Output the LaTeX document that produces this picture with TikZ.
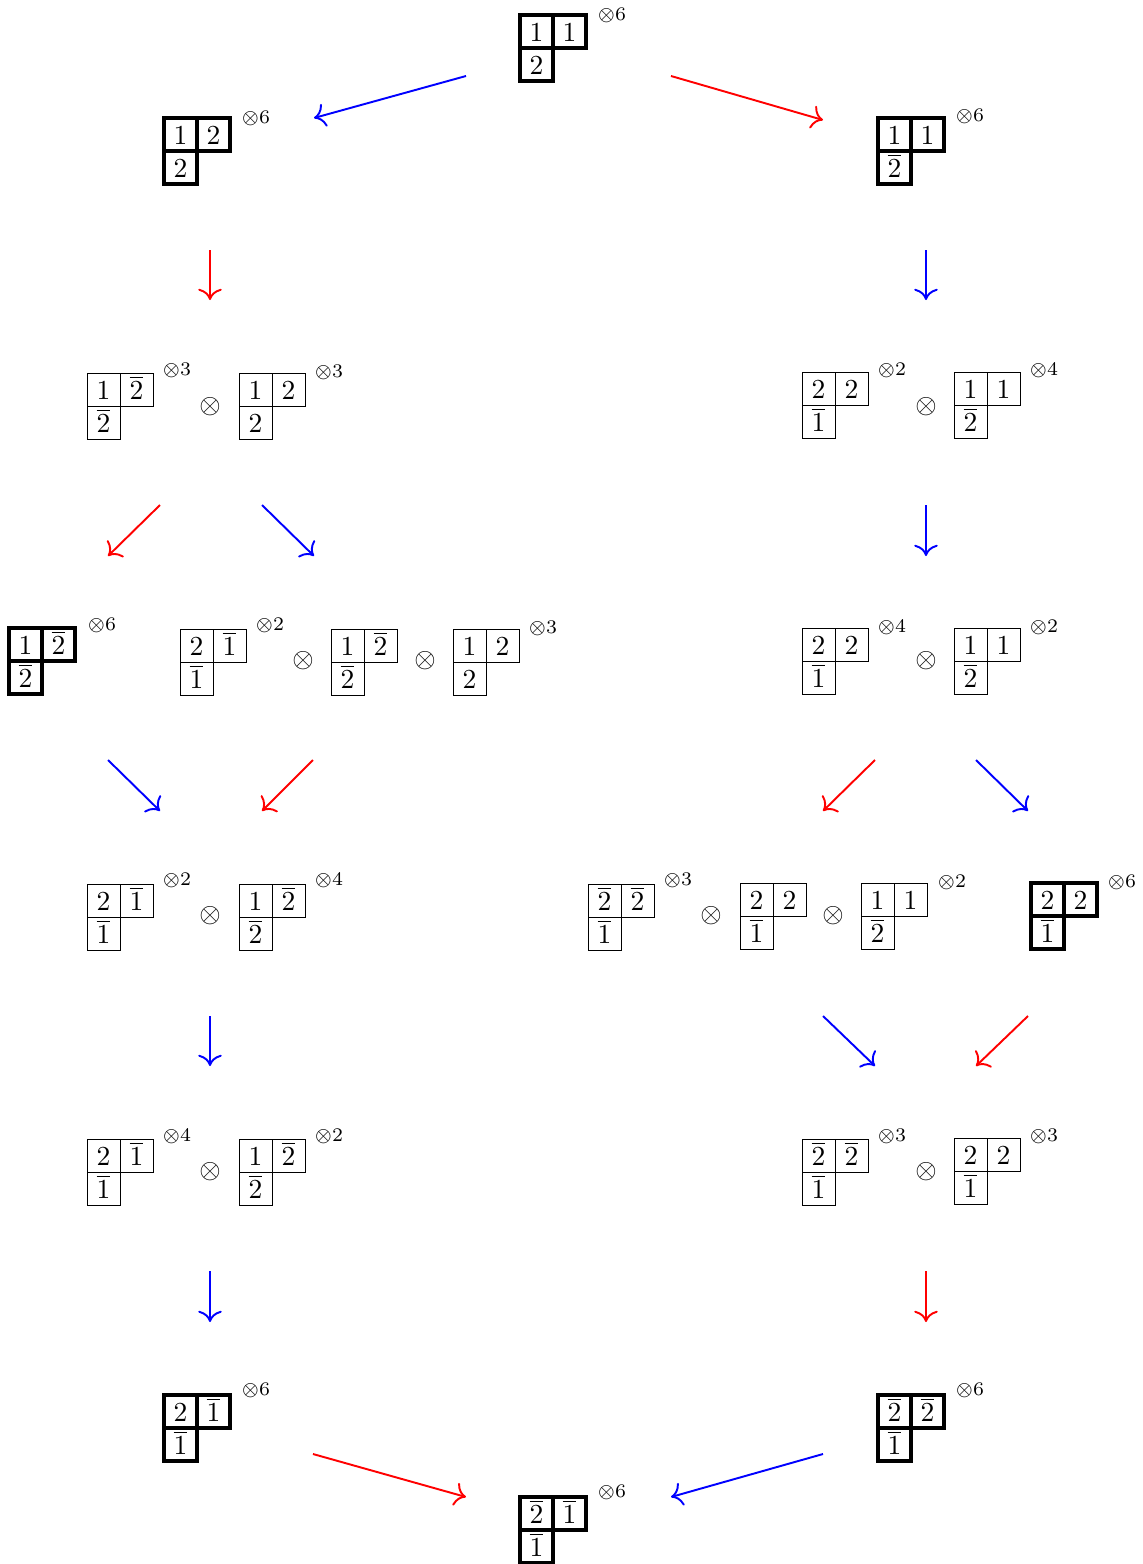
\documentclass[tikz,border=0pt]{standalone}
\usetikzlibrary{arrows.meta}
\begin{document}
\begin{tikzpicture}[x=0.3636pt,y=-0.3636pt,
  thin/.style={draw, line width=0.35pt, minimum size=12pt, inner sep=0pt, text height=7pt, text depth=0pt},
  thk/.style={draw, line width=1.6pt, minimum size=12pt, inner sep=0pt, text height=7pt, text depth=0pt},
  sup/.style={font=\scriptsize, inner sep=0pt},
  otm/.style={inner sep=0pt},
  ar/.style={-{To[scale=1.3]}, line width=0.7pt},
  rar/.style={ar, red},
  bar/.style={ar, blue}]
\useasboundingbox (0,0) rectangle (1143,1564);
\newcommand{\ytab}[7]{%
  \node[#2] (#1a) at (#3+16.5,#4+16.5) {$#5$};
  \node[#2] (#1b) at (#3+49.5,#4+16.5) {$#6$};
  \node[#2] (#1c) at (#3+16.5,#4+49.5) {$#7$};}
\newcommand{\ob}[1]{\overline{#1}}
% row 0
\ytab{t0}{thk}{520}{15}{1}{1}{2}
\node[sup] (s0) at (612,15) {$\otimes6$};
% row 1
\ytab{l1}{thk}{164}{118}{1}{2}{2}
\node[sup] (sl1) at (256,118) {$\otimes6$};
\ytab{r1}{thk}{878}{118}{1}{1}{\ob2}
\node[sup] (sr1) at (970,116) {$\otimes6$};
% row 3
\ytab{l3a}{thin}{87}{373}{1}{\ob2}{\ob2}
\node[sup] (sl3a) at (177,370) {$\otimes3$};
\node[otm] (ol3) at (210,407) {$\otimes$};
\ytab{l3b}{thin}{239}{373}{1}{2}{2}
\node[sup] (sl3b) at (329,372) {$\otimes3$};
\ytab{r3a}{thin}{802}{372}{2}{2}{\ob1}
\node[sup] (sr3a) at (892,370) {$\otimes2$};
\node[otm] (or3) at (926,407) {$\otimes$};
\ytab{r3b}{thin}{954}{372}{1}{1}{\ob2}
\node[sup] (sr3b) at (1044,370) {$\otimes4$};
% row 5
\ytab{l5t}{thk}{9}{628}{1}{\ob2}{\ob2}
\node[sup] (sl5t) at (102,625) {$\otimes6$};
\ytab{l5a}{thin}{180}{629}{2}{\ob1}{\ob1}
\node[sup] (sl5a) at (270,625) {$\otimes2$};
\node[otm] (ol5a) at (303,661) {$\otimes$};
\ytab{l5b}{thin}{331}{629}{1}{\ob2}{\ob2}
\node[otm] (ol5b) at (425,661) {$\otimes$};
\ytab{l5c}{thin}{453}{629}{1}{2}{2}
\node[sup] (sl5c) at (543,628) {$\otimes3$};
\ytab{r5a}{thin}{802}{628}{2}{2}{\ob1}
\node[sup] (sr5a) at (892,627) {$\otimes4$};
\node[otm] (or5) at (926,661) {$\otimes$};
\ytab{r5b}{thin}{954}{628}{1}{1}{\ob2}
\node[sup] (sr5b) at (1044,627) {$\otimes2$};
% row 7
\ytab{l7a}{thin}{87}{884}{2}{\ob1}{\ob1}
\node[sup] (sl7a) at (177,880) {$\otimes2$};
\node[otm] (ol7) at (210,916) {$\otimes$};
\ytab{l7b}{thin}{239}{884}{1}{\ob2}{\ob2}
\node[sup] (sl7b) at (329,880) {$\otimes4$};
\ytab{r7a}{thin}{588}{884}{\ob2}{\ob2}{\ob1}
\node[sup] (sr7a) at (678,880) {$\otimes3$};
\node[otm] (or7a) at (711,916) {$\otimes$};
\ytab{r7b}{thin}{740}{883}{2}{2}{\ob1}
\node[otm] (or7b) at (833,916) {$\otimes$};
\ytab{r7c}{thin}{861}{883}{1}{1}{\ob2}
\node[sup] (sr7c) at (952,882) {$\otimes2$};
\ytab{r7t}{thk}{1031}{883}{2}{2}{\ob1}
\node[sup] (sr7t) at (1122,882) {$\otimes6$};
% row 9
\ytab{l9a}{thin}{87}{1139}{2}{\ob1}{\ob1}
\node[sup] (sl9a) at (177,1136) {$\otimes4$};
\node[otm] (ol9) at (210,1172) {$\otimes$};
\ytab{l9b}{thin}{239}{1139}{1}{\ob2}{\ob2}
\node[sup] (sl9b) at (329,1136) {$\otimes2$};
\ytab{r9a}{thin}{802}{1139}{\ob2}{\ob2}{\ob1}
\node[sup] (sr9a) at (892,1136) {$\otimes3$};
\node[otm] (or9) at (926,1172) {$\otimes$};
\ytab{r9b}{thin}{954}{1138}{2}{2}{\ob1}
\node[sup] (sr9b) at (1044,1136) {$\otimes3$};
% row 11
\ytab{l11}{thk}{164}{1395}{2}{\ob1}{\ob1}
\node[sup] (sl11) at (256,1390) {$\otimes6$};
\ytab{r11}{thk}{878}{1395}{\ob2}{\ob2}{\ob1}
\node[sup] (sr11) at (970,1390) {$\otimes6$};
% bottom
\ytab{b}{thk}{520}{1497}{\ob2}{\ob1}{\ob1}
\node[sup] (sb) at (612,1492) {$\otimes6$};
% arrow end coordinates
\coordinate (a1s) at (466,76);  \coordinate (a1e) at (314,118);
\coordinate (a2s) at (671,76);  \coordinate (a2e) at (823,120);
\coordinate (a3s) at (210,250); \coordinate (a3e) at (210,300);
\coordinate (a4s) at (926,250); \coordinate (a4e) at (926,300);
\coordinate (a5s) at (160,505); \coordinate (a5e) at (108,556);
\coordinate (a6s) at (262,505); \coordinate (a6e) at (314,556);
\coordinate (a7s) at (926,505); \coordinate (a7e) at (926,556);
\coordinate (a8s) at (108,760); \coordinate (a8e) at (160,811);
\coordinate (a9s) at (313,760); \coordinate (a9e) at (262,811);
\coordinate (a10s) at (875,760); \coordinate (a10e) at (823,811);
\coordinate (a11s) at (976,760); \coordinate (a11e) at (1028,811);
\coordinate (a12s) at (210,1016); \coordinate (a12e) at (210,1066);
\coordinate (a13s) at (823,1016); \coordinate (a13e) at (875,1066);
\coordinate (a14s) at (1028,1016); \coordinate (a14e) at (976,1066);
\coordinate (a15s) at (210,1271); \coordinate (a15e) at (210,1322);
\coordinate (a16s) at (926,1271); \coordinate (a16e) at (926,1322);
\coordinate (a17s) at (313,1454); \coordinate (a17e) at (466,1497);
\coordinate (a18s) at (823,1454); \coordinate (a18e) at (671,1497);
% arrows
\draw[bar] (a1s) -- (a1e);
\draw[rar] (a2s) -- (a2e);
\draw[rar] (a3s) -- (a3e);
\draw[bar] (a4s) -- (a4e);
\draw[rar] (a5s) -- (a5e);
\draw[bar] (a6s) -- (a6e);
\draw[bar] (a7s) -- (a7e);
\draw[bar] (a8s) -- (a8e);
\draw[rar] (a9s) -- (a9e);
\draw[rar] (a10s) -- (a10e);
\draw[bar] (a11s) -- (a11e);
\draw[bar] (a12s) -- (a12e);
\draw[bar] (a13s) -- (a13e);
\draw[rar] (a14s) -- (a14e);
\draw[bar] (a15s) -- (a15e);
\draw[rar] (a16s) -- (a16e);
\draw[rar] (a17s) -- (a17e);
\draw[bar] (a18s) -- (a18e);
\end{tikzpicture}
\end{document}
